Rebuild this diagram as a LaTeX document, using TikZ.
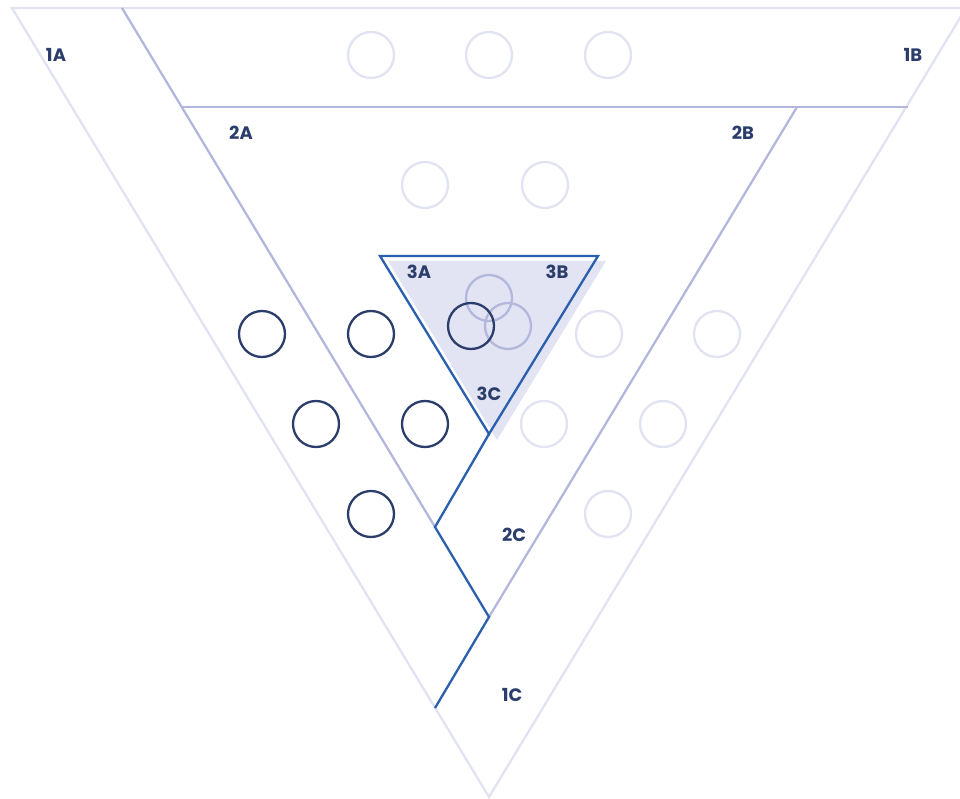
\documentclass[tikz,border=0pt]{standalone}
\usepackage{fontspec}
\setmainfont{Poppins}
\definecolor{lightl}{HTML}{E1E2F2}
\definecolor{midl}{HTML}{B3B7DC}
\definecolor{blueL}{HTML}{2A5FAE}
\definecolor{navy}{HTML}{2B3D6B}
\definecolor{fillL}{HTML}{E3E4F3}
\tikzset{
  lbl/.style={font=\bfseries\fontsize{18}{18}\selectfont, text=navy, inner sep=0pt},
  ring/.style={circle, draw=#1, line width=2.3pt, minimum size=46pt, inner sep=0pt},
  outerln/.style={draw=lightl, line width=2.3pt},
  midln/.style={draw=midl, line width=2.3pt},
  blueln/.style={draw=blueL, line width=2.3pt, line join=miter},
}
\begin{document}
\begin{tikzpicture}[x=1pt,y=-1pt]
\useasboundingbox (0,0) rectangle (960,799);
\clip (0,0) rectangle (960,799);
% coordinates
\coordinate (oTL) at (12,8);
\coordinate (oTR) at (966,8);
\coordinate (oB) at (489,797);
\coordinate (l1a) at (122,8);
\coordinate (l1b) at (435,527);
\coordinate (h2a) at (182,107);
\coordinate (h2b) at (908,107);
\coordinate (r2a) at (797,107);
\coordinate (r2b) at (489,617);
\coordinate (b1) at (435,708);
\coordinate (b2) at (489,617);
\coordinate (b3) at (435,527);
\coordinate (tA) at (380,256);
\coordinate (tB) at (598,256);
\coordinate (tC) at (489,434);
% shaded triangle
\fill[fillL] (388,261) -- (606,261) -- (497,440) -- cycle;
% circles
\foreach \n/\p in {c1/{(371,55)},c2/{(489,55)},c3/{(608,55)},c4/{(425,185)},c5/{(545,185)},c6/{(599,334)},c7/{(717,334)},c8/{(544,424)},c9/{(663,424)},c10/{(608,514)}}
  \node[ring=lightl] (\n) at \p {};
\foreach \n/\p in {d1/{(262,334)},d2/{(371,334)},d3/{(316,424)},d4/{(425,424)},d5/{(371,514)}}
  \node[ring=navy] (\n) at \p {};
\node[ring=midl] (m1) at (489,298) {};
\node[ring=midl] (m2) at (508,326) {};
\node[ring=navy] (m3) at (471,326) {};
% lines
\draw[outerln] (oTL) -- (oTR) -- (oB) -- cycle;
\draw[midln] (l1a) -- (l1b);
\draw[midln] (h2a) -- (h2b);
\draw[midln] (r2a) -- (r2b);
\draw[blueln] (b1) -- (b2) -- (b3) -- (tC);
\draw[blueln] (tA) -- (tB) -- (tC) -- cycle;
% labels
\node[lbl] (L1A) at (56,55) {1A};
\node[lbl] (L1B) at (913,55) {1B};
\node[lbl] (L1C) at (512,695) {1C};
\node[lbl] (L2A) at (241,133) {2A};
\node[lbl] (L2B) at (743,133) {2B};
\node[lbl] (L2C) at (514,535) {2C};
\node[lbl] (L3A) at (419,272) {3A};
\node[lbl] (L3B) at (557,272) {3B};
\node[lbl] (L3C) at (489,394) {3C};
\end{tikzpicture}
\end{document}
